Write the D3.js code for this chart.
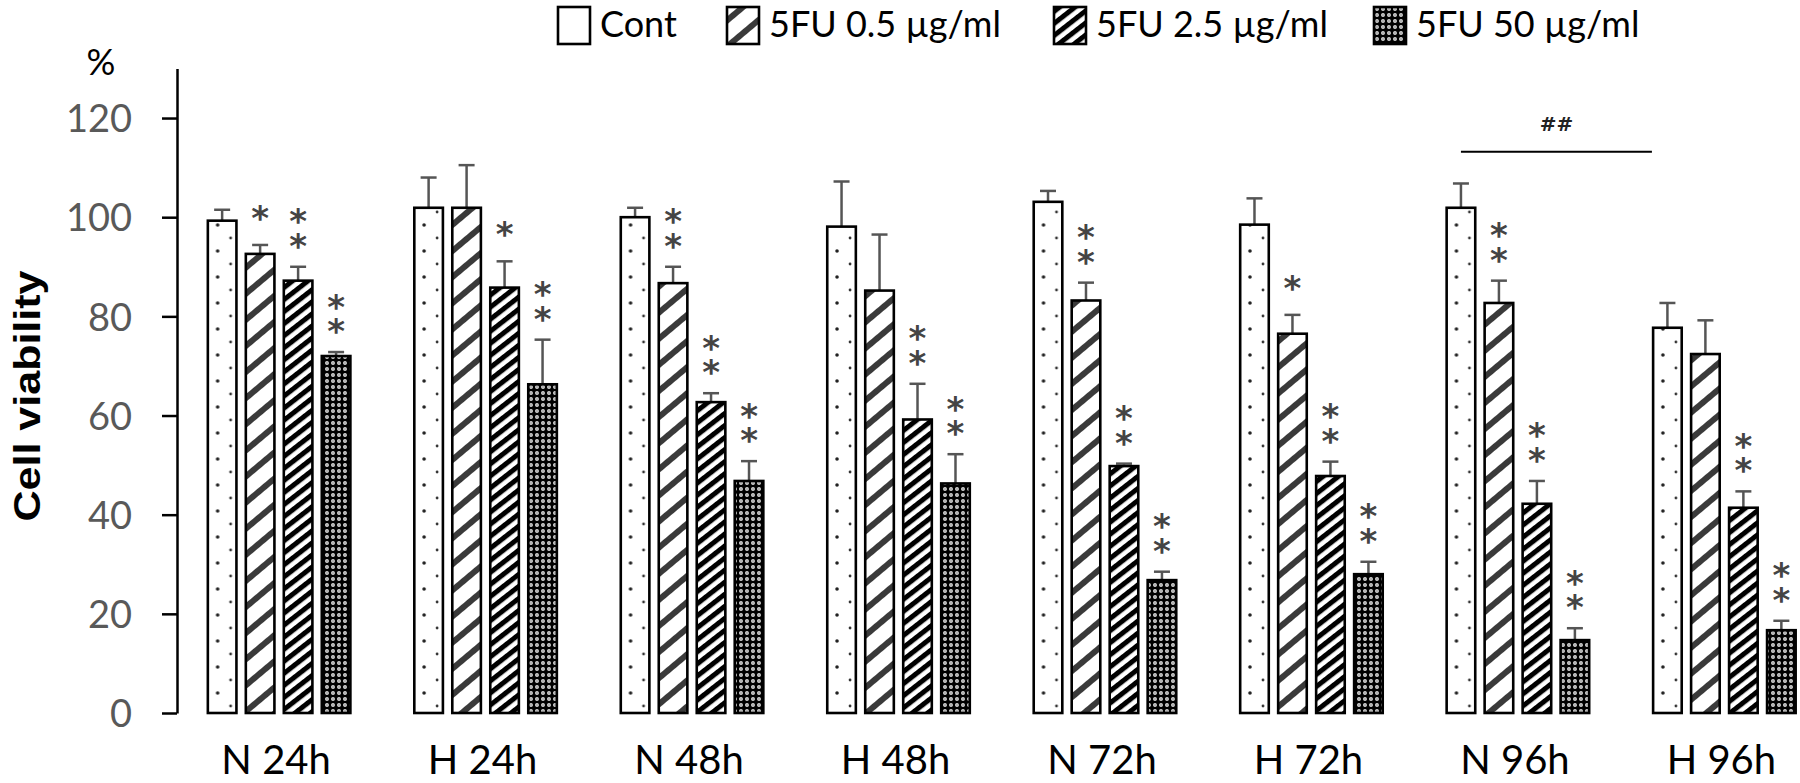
<!DOCTYPE html>
<html><head><meta charset="utf-8">
<script src="https://cdn.jsdelivr.net/npm/d3@7"></script>
<style>html,body{margin:0;padding:0;background:#fff;}svg{display:block;}</style>
</head><body>
<svg id="chart" width="1800" height="783"></svg>
<script>
// ---------- data ----------
const categories = ["N 24h","H 24h","N 48h","H 48h","N 72h","H 72h","N 96h","H 96h"];
const seriesNames = ["Cont","5FU 0.5 µg/ml","5FU 2.5 µg/ml","5FU 50 µg/ml"];
const contValues = [99.3, 101.9, 100.0, 98.1, 103.1, 98.5, 101.9, 77.7];
const contErrors = [2.2, 6.1, 1.9, 9.1, 2.2, 5.3, 4.9, 5.0];
const fu05Values = [92.6, 101.9, 86.7, 85.2, 83.2, 76.5, 82.7, 72.4];
const fu05Errors = [1.8, 8.6, 3.3, 11.3, 3.6, 3.8, 4.5, 6.8];
const fu25Values = [87.2, 85.8, 62.7, 59.2, 49.8, 47.8, 42.2, 41.4];
const fu25Errors = [2.8, 5.3, 1.8, 7.2, 0.5, 2.9, 4.6, 3.3];
const fu50Values = [72.0, 66.3, 46.8, 46.3, 26.8, 28.0, 14.7, 16.7];
const fu50Errors = [0.8, 9.0, 4.0, 5.9, 1.7, 2.5, 2.4, 1.9];
const contStars = ["","","","","","","",""];
const fu05Stars = ["*","","**","","**","*","**",""];
const fu25Stars = ["**","*","**","**","**","**","**","**"];
const fu50Stars = ["**","**","**","**","**","**","**","**"];
const yTicks = [0, 20, 40, 60, 80, 100, 120];
const yAxisTop = 130;
const hashLabel = "##";
const hashLineValue = 113.2;
const hashTextValue = 118.7;
const hashFrom = "N 96h", hashTo = "H 96h";

const valueSets = [contValues, fu05Values, fu25Values, fu50Values];
const errorSets = [contErrors, fu05Errors, fu25Errors, fu50Errors];
const starSets = [contStars, fu05Stars, fu25Stars, fu50Stars];

const rows = [];
categories.forEach((c, i) => seriesNames.forEach((s, j) => {
  rows.push({cat: c, ser: s, si: j, v: valueSets[j][i], e: errorSets[j][i], stars: starSets[j][i]});
}));

// ---------- layout ----------
const svg = d3.select("#chart");
const baseY = 713;
const y = d3.scaleLinear().domain([0, yAxisTop]).range([baseY, baseY - yAxisTop * 4.958]);
const x0 = d3.scaleBand().domain(categories).range([176.5, 1827]).paddingInner(0.298).paddingOuter(0.146);
const x1 = d3.scaleBand().domain(seriesNames).range([0, x0.bandwidth()]).paddingInner(0.184);
const bw = x1.bandwidth();

// ---------- patterns ----------
const defs = svg.append("defs");
const patIds = ["pCont", "p05", "p25", "p50"];

const step = x0.step();
const pc = defs.append("pattern").attr("id", "pCont").attr("patternUnits", "userSpaceOnUse")
  .attr("x", x0(categories[0])).attr("y", baseY).attr("width", step).attr("height", 26);
pc.append("rect").attr("width", step).attr("height", 26).attr("fill", "#fff");
const cx = x1(seriesNames[0]);
pc.append("circle").attr("cx", cx + 11).attr("cy", 6).attr("r", 1.8).attr("fill", "#222");
pc.append("circle").attr("cx", cx + 24).attr("cy", 19).attr("r", 1.4).attr("fill", "#333");

const p05 = defs.append("pattern").attr("id", "p05").attr("patternUnits", "userSpaceOnUse")
  .attr("width", 20).attr("height", 20).attr("patternTransform", "rotate(50)");
p05.append("rect").attr("width", 20).attr("height", 20).attr("fill", "#fff");
p05.append("rect").attr("x", 0).attr("width", 6).attr("height", 20).attr("fill", "#3a3a3a");

const p25 = defs.append("pattern").attr("id", "p25").attr("patternUnits", "userSpaceOnUse")
  .attr("width", 9.5).attr("height", 10).attr("patternTransform", "rotate(52)");
p25.append("rect").attr("width", 9.5).attr("height", 10).attr("fill", "#fff");
p25.append("rect").attr("x", 0).attr("width", 5).attr("height", 10).attr("fill", "#000");

const p50 = defs.append("pattern").attr("id", "p50").attr("patternUnits", "userSpaceOnUse")
  .attr("width", 6).attr("height", 6);
p50.append("rect").attr("width", 6).attr("height", 6).attr("fill", "#000");
p50.append("rect").attr("x", 1.3).attr("y", 1.3).attr("width", 3.4).attr("height", 3.4).attr("rx", 1.3).attr("fill", "#fff");
p50.append("circle").attr("cx", 3).attr("cy", 3).attr("r", 0.8).attr("fill", "#555");

// ---------- y axis ----------
const yAxis = d3.axisLeft(y).tickValues(yTicks).tickSize(15).tickSizeOuter(0).tickPadding(30);
const gy = svg.append("g").attr("transform", "translate(177,0)").call(yAxis);
gy.select(".domain").attr("stroke", "#000").attr("stroke-width", 2.5);
gy.selectAll(".tick line").attr("stroke", "#000").attr("stroke-width", 2.5);
gy.selectAll(".tick text").attr("fill", "#595959").style("font-family", "Lato, sans-serif")
  .style("font-size", "38px").attr("dy", "0.36em");

svg.append("text").attr("x", 101).attr("y", 75).attr("text-anchor", "middle")
  .style("font-family", "Lato, sans-serif").style("font-size", "36px").attr("fill", "#000").text("%");

svg.append("text").attr("transform", "translate(40,396) rotate(-90)").attr("text-anchor", "middle")
  .style("font-family", "'Liberation Sans', Arial, sans-serif").style("font-weight", "bold")
  .style("font-size", "36px").attr("textLength", 251).attr("lengthAdjust", "spacingAndGlyphs")
  .attr("fill", "#000").text("Cell viability");

// ---------- bars ----------
const g = svg.append("g");
const barX = d => x0(d.cat) + x1(d.ser);

g.selectAll("line.err").data(rows).join("line").attr("class", "err")
  .attr("x1", d => barX(d) + bw / 2).attr("x2", d => barX(d) + bw / 2)
  .attr("y1", d => y(d.v)).attr("y2", d => y(d.v + d.e))
  .attr("stroke", "#555").attr("stroke-width", 2.5);
g.selectAll("line.cap").data(rows).join("line").attr("class", "cap")
  .attr("x1", d => barX(d) + bw / 2 - 8).attr("x2", d => barX(d) + bw / 2 + 8)
  .attr("y1", d => y(d.v + d.e)).attr("y2", d => y(d.v + d.e))
  .attr("stroke", "#555").attr("stroke-width", 2.5);

g.selectAll("rect.bar").data(rows).join("rect").attr("class", "bar")
  .attr("x", d => barX(d) + 1.2).attr("width", bw - 2.4)
  .attr("y", d => y(d.v)).attr("height", d => baseY - y(d.v))
  .attr("fill", d => `url(#${patIds[d.si]})`)
  .attr("stroke", "#000").attr("stroke-width", 2.6);

// significance stars: one vertical text per bar (stacked asterisks)
const starFs = 34, starGap = 18.5;
const starRows = rows.filter(d => d.stars);
g.selectAll("text.star").data(starRows).join("text").attr("class", "star")
  .attr("x", d => barX(d) + bw / 2)
  .attr("y", d => y(d.v + d.e) - 38 - (d.stars.length - 1) * starGap - 9)
  .style("writing-mode", "vertical-rl").style("text-orientation", "upright")
  .style("letter-spacing", (starGap - starFs) + "px")
  .style("font-family", "'DejaVu Sans', sans-serif").style("font-size", starFs + "px")
  .style("font-weight", "bold")
  .attr("fill", "#444").text(d => d.stars);

// ## bracket
const hx1 = x0(hashFrom) + x1(seriesNames[0]) + bw / 2;
const hx2 = x0(hashTo) + x1(seriesNames[0]);
svg.append("line").attr("x1", hx1).attr("x2", hx2).attr("y1", y(hashLineValue)).attr("y2", y(hashLineValue))
  .attr("stroke", "#000").attr("stroke-width", 2.2);
svg.append("text").attr("x", (hx1 + hx2) / 2).attr("y", y(hashTextValue) + 7).attr("text-anchor", "middle")
  .style("font-family", "'DejaVu Sans', sans-serif").style("font-size", "20px").style("font-weight", "bold")
  .attr("fill", "#222").text(hashLabel);

// ---------- x labels ----------
svg.selectAll("text.xl").data(categories).join("text").attr("class", "xl")
  .attr("x", c => x0(c) + x0.bandwidth() / 2 - 3).attr("y", 774).attr("text-anchor", "middle")
  .style("font-family", "Lato, sans-serif").style("font-size", "40px").attr("fill", "#000").text(c => c);

// ---------- legend ----------
const legendX = [558, 727, 1054, 1374];
const lg = svg.append("g");
seriesNames.forEach((s, j) => {
  lg.append("rect").attr("x", legendX[j]).attr("y", 7).attr("width", 32).attr("height", 37)
    .attr("fill", `url(#${patIds[j]})`).attr("stroke", "#000").attr("stroke-width", 2.6);
  lg.append("text").attr("x", legendX[j] + 42).attr("y", 37)
    .style("font-family", "Lato, sans-serif").style("font-size", "36px").attr("fill", "#000").text(s);
});
</script>
</body></html>
